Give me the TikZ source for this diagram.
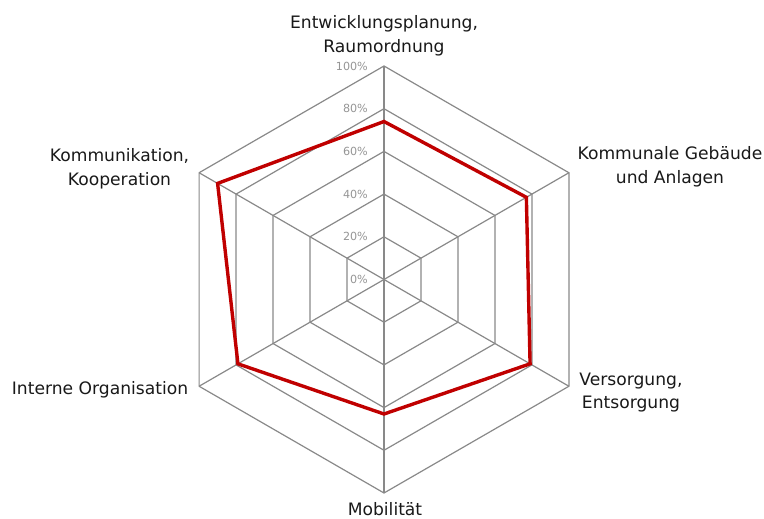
\documentclass[tikz,border=0pt]{standalone}
\usepackage{fontspec}
\setmainfont{DejaVu Sans}
\usetikzlibrary{positioning,calc}
\definecolor{gridgray}{RGB}{137,137,137}
\definecolor{scorered}{RGB}{192,0,0}
\colorlet{ticklabel}{gridgray!90}
\colorlet{axislabel}{black!90}

\begin{document}
\begin{tikzpicture}[x=1bp,y=1bp,
    gridline/.style={gridgray,line width=1.2bp},
    tick/.style={anchor=east,text=ticklabel,font=\fontsize{11.2}{13}\selectfont,inner sep=0pt},
    axis/.style={align=center,text=axislabel,font=\fontsize{17.2}{24}\selectfont,inner sep=0pt}]
  \useasboundingbox (0,0) rectangle (764,519);
  \begin{scope}[shift={(384,239.5)}]
    \coordinate (c) at (0,0);
    % rings
    \foreach \r in {1,...,5}{
      \draw[gridline] (90:\r*42.7) -- (30:\r*42.7) -- (-30:\r*42.7)
        -- (-90:\r*42.7) -- (-150:\r*42.7) -- (150:\r*42.7) -- cycle;
    }
    % spokes
    \foreach \a in {90,30,-30,-90,-150,150}
      \draw[gridline] (c) -- (\a:213.5);
    % ticks
    \foreach \v in {0,20,...,100}
      \node[tick] (t\v) at (-16,\v*2.135) {\v\%};
    % scores
    \foreach \a/\v [count=\i] in {90/74,30/77,-30/79,-90/63,-150/79,150/90}
      \coordinate (p\i) at (\a:\v*2.135);
    \draw[scorered,line width=3.4bp] (p1) -- (p2) -- (p3) -- (p4) -- (p5) -- (p6) -- cycle;
  \end{scope}
  \node[axis] (plan) at (384,483.5) {Entwicklungsplanung,\\Raumordnung};
  \node[axis] (bau) at (670,352) {Kommunale Gebäude\\und Anlagen};
  \node[axis] (vers) at (631,126.5) {Versorgung,\\Entsorgung};
  \node[axis] (mob) at (385,9.5) {Mobilität};
  \node[axis] (org) at (100,129) {Interne Organisation};
  \node[axis] (komm) at (119.5,350.5) {Kommunikation,\\Kooperation};
\end{tikzpicture}
\end{document}
